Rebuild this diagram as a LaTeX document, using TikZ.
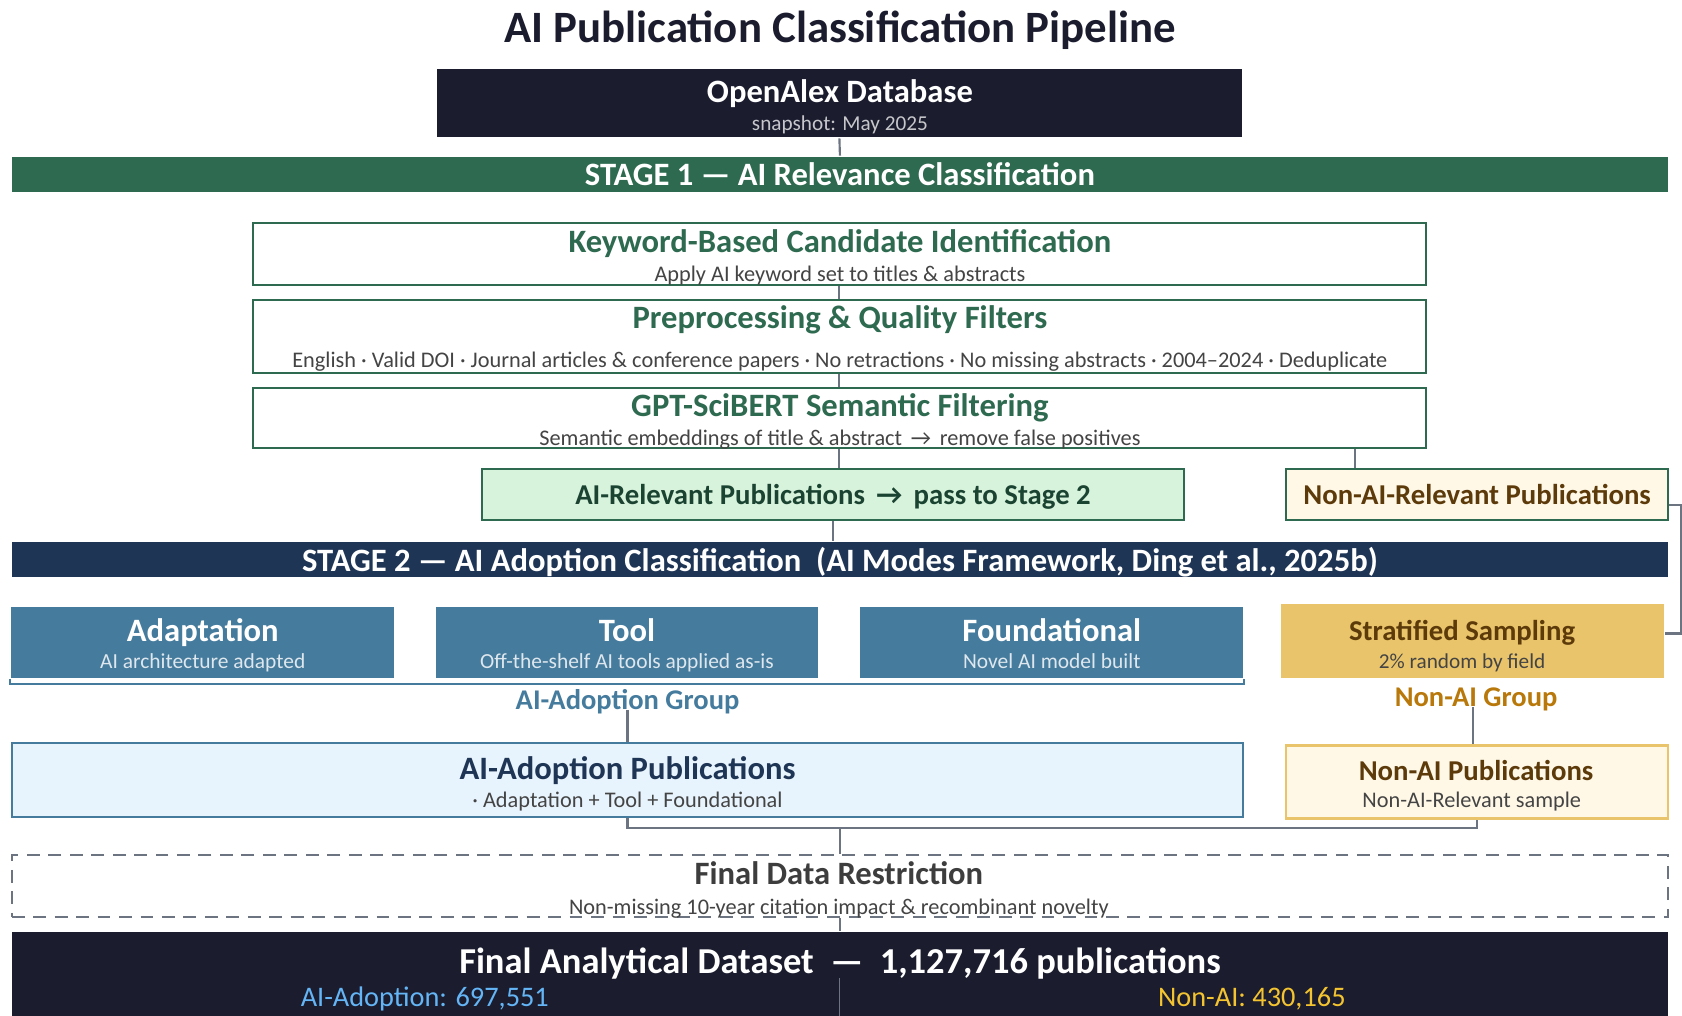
\documentclass[tikz,border=0pt]{standalone}
\usepackage{fontspec}
\setmainfont{Carlito}
\usetikzlibrary{positioning,calc}

\definecolor{inkdark}{HTML}{1B1C2E}
\definecolor{stagegreen}{HTML}{2D6A4F}
\definecolor{stagenavy}{HTML}{1F3555}
\definecolor{steel}{HTML}{457B9D}
\definecolor{paleblue}{HTML}{E8F4FD}
\definecolor{palegreen}{HTML}{D8F3DC}
\definecolor{deepgreen}{HTML}{1B4332}
\definecolor{gold}{HTML}{E9C46A}
\definecolor{cream}{HTML}{FFF8E7}
\definecolor{brown}{HTML}{5C3A0A}
\definecolor{amber}{HTML}{B8780A}
\definecolor{subgray}{HTML}{444444}
\definecolor{wire}{HTML}{6B7480}
\definecolor{countblue}{HTML}{64B5F6}
\definecolor{countgold}{HTML}{F4C430}

\newcommand{\unitpx}{0.5pt}

\tikzset{
  txt/.style={inner sep=0, text depth=0pt},
  box/.style={rectangle, inner sep=0, line width=1pt},
  stagebar/.style={box, txt, minimum width=1544*\unitpx, minimum height=33*\unitpx,
    text=white, font=\bfseries\fontsize{15.2}{17}\selectfont},
  filterbox/.style={box, draw=stagegreen, fill=white, minimum width=1093*\unitpx},
  modebox/.style={box, fill=steel, minimum width=357*\unitpx, minimum height=66*\unitpx},
  boxtitle/.style={txt, font=\bfseries\fontsize{15.2}{17}\selectfont},
  sidetitle/.style={txt, font=\bfseries\fontsize{13.4}{15}\selectfont},
  boxsub/.style={txt, text=subgray, font=\fontsize{10.4}{12}\selectfont},
  grouplabel/.style={txt, font=\bfseries\fontsize{13.3}{15}\selectfont},
  conn/.style={draw=wire, line width=1pt},
}

\begin{document}
\begin{tikzpicture}[x=\unitpx, y=-\unitpx]
	\useasboundingbox (0,0) rectangle (1568,947);
	\clip (0,0) rectangle (1568,947);
	
	% Title
	\node (title) at (783,25) [txt, text=inkdark, font=\bfseries\fontsize{20.9}{25}\selectfont]
	      {AI Publication Classification Pipeline};
	
	% Source
	\node (openalex) at (782.5,96)
	      [box, fill=inkdark, minimum width=751*\unitpx, minimum height=64*\unitpx] {};
	\node at (783,85) [boxtitle, text=white] {OpenAlex Database};
	\node at (783,115) [boxsub, text=white!75!inkdark, font=\fontsize{9.9}{12}\selectfont] {snapshot: May 2025};
	
	% Stage 1
	\node (stage1) at (783,162.5) [stagebar, fill=stagegreen]
	      {STAGE 1 \textemdash{} AI Relevance Classification};
	
	\node (keyword) at (782.5,237) [filterbox, minimum height=58*\unitpx] {};
	\node at (783,225) [boxtitle, text=stagegreen] {Keyword-Based Candidate Identification};
	\node at (783,255) [boxsub] {Apply AI keyword set to titles \& abstracts};
	
	\node (prefilter) at (782.5,314) [filterbox, minimum height=68*\unitpx] {};
	\node at (783,296) [boxtitle, text=stagegreen] {Preprocessing \& Quality Filters};
	\node at (783,335) [boxsub]
	      {English · Valid DOI · Journal articles \& conference papers · No retractions · No missing abstracts · 2004–2024 · Deduplicate};
	
	\node (scibert) at (782.5,390) [filterbox, minimum height=56*\unitpx] {};
	\node at (783,378) [boxtitle, text=stagegreen] {GPT-SciBERT Semantic Filtering};
	\node at (783,408) [boxsub]
	      {Semantic embeddings of title \& abstract \,→\, remove false positives};
	
	\node (airel) at (776.5,461)
	      [box, txt, draw=stagegreen, fill=palegreen, text=deepgreen,
	       minimum width=655*\unitpx, minimum height=48*\unitpx,
	       font=\bfseries\fontsize{13.4}{15}\selectfont]
	      {AI-Relevant Publications \,→\, pass to Stage 2};
	\node (nonrel) at (1377,461)
	      [box, txt, draw=stagegreen, fill=cream, text=brown,
	       minimum width=356*\unitpx, minimum height=48*\unitpx,
	       font=\bfseries\fontsize{13.4}{15}\selectfont]
	      {Non-AI-Relevant Publications};
	
	% Stage 2
	\node (stage2) at (783,521.5) [stagebar, fill=stagenavy]
	      {STAGE 2 \textemdash{} AI Adoption Classification \ (AI Modes Framework, Ding et al., 2025b)};
	
	\node (adapt) at (189,599) [modebox] {};
	\node at (189,587) [boxtitle, text=white] {Adaptation};
	\node at (189,616) [boxsub, text=white!82!steel, font=\fontsize{10}{12}\selectfont] {AI architecture adapted};
	
	\node (tool) at (584.5,599) [modebox] {};
	\node at (584.5,587) [boxtitle, text=white] {Tool};
	\node at (584.5,616) [boxsub, text=white!82!steel, font=\fontsize{10}{12}\selectfont] {Off-the-shelf AI tools applied as-is};
	
	\node (found) at (980.5,599) [modebox] {};
	\node at (980.5,587) [boxtitle, text=white] {Foundational};
	\node at (980.5,616) [boxsub, text=white!82!steel, font=\fontsize{10}{12}\selectfont] {Novel AI model built};
	
	\draw [draw=steel, line width=1pt]
	      (adapt.south west) -- ++(0,5) -| (found.south east);
	\node (aigroup) at (585,652) [grouplabel, text=steel] {AI-Adoption Group};
	
	\node (adoptpub) at (585,727.5)
	      [box, draw=steel, fill=paleblue, minimum width=1148*\unitpx, minimum height=69*\unitpx] {};
	\node at (585,716) [boxtitle, text=stagenavy] {AI-Adoption Publications};
	\node at (585,746) [boxsub] {· Adaptation + Tool + Foundational};
	
	\node (strat) at (1372.5,597.5)
	      [box, fill=gold, minimum width=357*\unitpx, minimum height=69*\unitpx] {};
	\node at (1363,588) [sidetitle, text=brown] {Stratified Sampling};
	\node at (1363,616) [boxsub, text=subgray, font=\fontsize{9.9}{12}\selectfont] {2\% random by field};
	\node (nongroup) at (1376,650) [grouplabel, text=amber] {Non-AI Group};
	
	\node (nonaipub) at (1377,729)
	      [box, draw=gold, fill=cream, minimum width=356*\unitpx, minimum height=68*\unitpx] {};
	\node at (1376,718) [sidetitle, text=brown] {Non-AI Publications};
	\node at (1372,746) [boxsub] {Non-AI-Relevant sample};
	
	% Final steps
	\node (restrict) at (783,826)
	      [box, draw=wire, dashed, dash pattern=on 6pt off 4pt, fill=white,
	       minimum width=1544*\unitpx, minimum height=58*\unitpx] {};
	\node at (782,814) [boxtitle, text=subgray!90!black] {Final Data Restriction};
	\node at (782,845) [boxsub] {Non-missing 10-year citation impact \& recombinant novelty};
	
	\node (final) at (783,910)
	      [box, fill=inkdark, minimum width=1544*\unitpx, minimum height=82*\unitpx] {};
	\node at (783,896) [boxtitle, text=white, font=\bfseries\fontsize{17}{20}\selectfont]
	      {Final Analytical Dataset \ \textemdash\ \ 1,127,716 publications};
	\node (aicount) at (396,929) [txt, text=countblue, font=\fontsize{13.2}{15}\selectfont]
	      {AI-Adoption: 697,551};
	\node (noncount) at (1167,929) [txt, text=countgold, font=\fontsize{13.2}{15}\selectfont]
	      {Non-AI: 430,165};
	\draw [draw=wire, line width=0.5pt] (783,912) -- (final.south);
	
	% Connectors
	\draw [conn] (openalex.south) -- (stage1.north);
	\draw [conn] (keyword.south) -- (prefilter.north);
	\draw [conn] (prefilter.south) -- (scibert.north);
	\draw [conn] (scibert.south) -- (scibert.south |- airel.north);
	\draw [conn] ([xshift=65*\unitpx]nonrel.north west |- scibert.south)
	      -- ([xshift=65*\unitpx]nonrel.north west);
	\draw [conn] (airel.south) -- (airel.south |- stage2.north);
	\draw [conn] ([yshift=-10*\unitpx]nonrel.east) -- ++(11,0) |- ([yshift=7*\unitpx]strat.east);
	\draw [conn] (aigroup.south) -- (aigroup.south |- adoptpub.north);
	\draw [conn] ([xshift=-3*\unitpx]nongroup.south) -- ([xshift=-3*\unitpx]nongroup.south |- nonaipub.north);
	\coordinate (merge) at (783,772);
	\draw [conn] (adoptpub.south) |- (merge) -| (nonaipub.south);
	\draw [conn] (merge) -- (restrict.north);
	\draw [conn] (restrict.south) -- (final.north);
\end{tikzpicture}
\end{document}
